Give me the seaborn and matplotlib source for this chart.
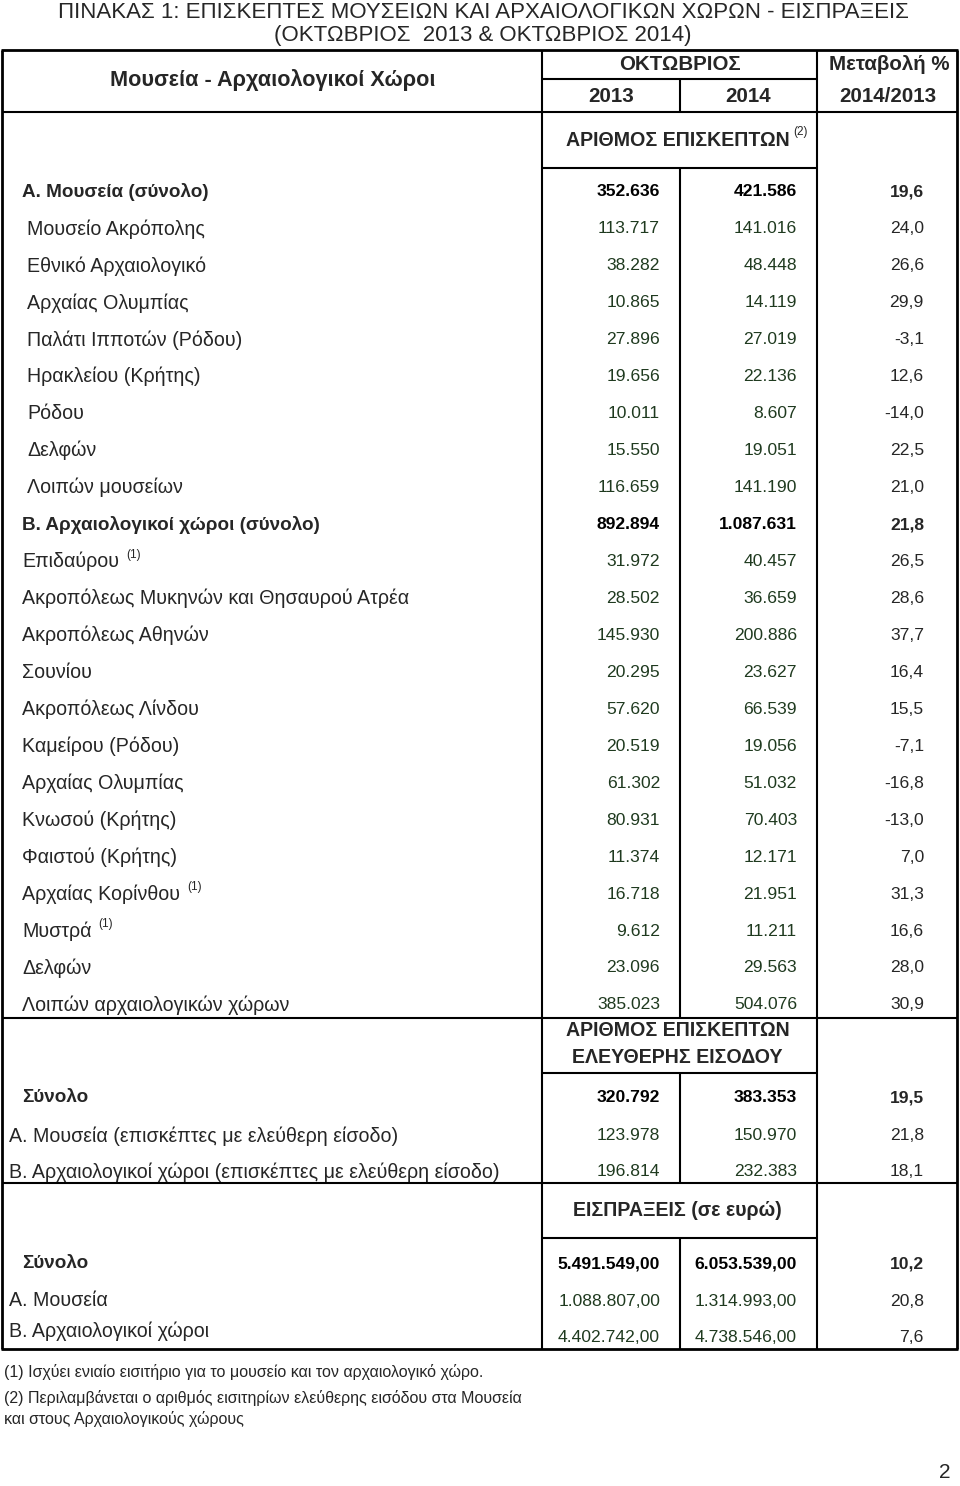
import numpy as np
import pandas as pd
import matplotlib
matplotlib.use("Agg")
import matplotlib.pyplot as plt
import seaborn as sns

title_lines = ["ΠΙΝΑΚΑΣ 1: ΕΠΙΣΚΕΠΤΕΣ ΜΟΥΣΕΙΩΝ ΚΑΙ ΑΡΧΑΙΟΛΟΓΙΚΩΝ ΧΩΡΩΝ - ΕΙΣΠΡΑΞΕΙΣ",
               "(ΟΚΤΩΒΡΙΟΣ  2013 & ΟΚΤΩΒΡΙΟΣ 2014)"]

visit_labels = ["Α. Μουσεία (σύνολο)", "Μουσείο Ακρόπολης", "Εθνικό Αρχαιολογικό",
                "Αρχαίας Ολυμπίας", "Παλάτι Ιπποτών (Ρόδου)", "Ηρακλείου (Κρήτης)",
                "Ρόδου", "Δελφών", "Λοιπών μουσείων",
                "Β. Αρχαιολογικοί χώροι (σύνολο)", "Επιδαύρου",
                "Ακροπόλεως Μυκηνών και Θησαυρού Ατρέα", "Ακροπόλεως Αθηνών", "Σουνίου",
                "Ακροπόλεως Λίνδου", "Καμείρου (Ρόδου)", "Αρχαίας Ολυμπίας",
                "Κνωσού (Κρήτης)", "Φαιστού (Κρήτης)", "Αρχαίας Κορίνθου", "Μυστρά",
                "Δελφών", "Λοιπών αρχαιολογικών χώρων"]
visit_2013 = [352636, 113717, 38282, 10865, 27896, 19656, 10011, 15550, 116659,
              892894, 31972, 28502, 145930, 20295, 57620, 20519, 61302, 80931,
              11374, 16718, 9612, 23096, 385023]
visit_2014 = [421586, 141016, 48448, 14119, 27019, 22136, 8607, 19051, 141190,
              1087631, 40457, 36659, 200886, 23627, 66539, 19056, 51032, 70403,
              12171, 21951, 11211, 29563, 504076]
visit_change = [19.6, 24.0, 26.6, 29.9, -3.1, 12.6, -14.0, 22.5, 21.0,
                21.8, 26.5, 28.6, 37.7, 16.4, 15.5, -7.1, -16.8, -13.0,
                7.0, 31.3, 16.6, 28.0, 30.9]
visit_notes = {"Επιδαύρου": "(1)", "Αρχαίας Κορίνθου": "(1)", "Μυστρά": "(1)"}
visit_totals = [0, 9]
museum_items = [1, 2, 3, 4, 5, 6, 7, 8]

free_labels = ["Σύνολο", "Α. Μουσεία (επισκέπτες με ελεύθερη είσοδο)",
               "Β. Αρχαιολογικοί χώροι (επισκέπτες με ελεύθερη είσοδο)"]
free_2013 = [320792, 123978, 196814]
free_2014 = [383353, 150970, 232383]
free_change = [19.5, 21.8, 18.1]

rev_labels = ["Σύνολο", "Α. Μουσεία", "Β. Αρχαιολογικοί χώροι"]
rev_2013 = [5491549.00, 1088807.00, 4402742.00]
rev_2014 = [6053539.00, 1314993.00, 4738546.00]
rev_change = [10.2, 20.8, 7.6]

footnotes = ["(1) Ισχύει ενιαίο εισιτήριο για το μουσείο και τον αρχαιολογικό χώρο.",
             "(2) Περιλαμβάνεται ο αριθμός εισιτηρίων ελεύθερης εισόδου στα Μουσεία\nκαι στους Αρχαιολογικούς χώρους"]


def fmt_int(v):
    return f"{v:,}".replace(",", ".")


def fmt_money(v):
    s = f"{v:,.2f}"
    return s.replace(",", "X").replace(".", ",").replace("X", ".")


def fmt_pct(v):
    return f"{v:.1f}".replace(".", ",")


sns.set_theme(style="white")
plt.rcParams["font.family"] = ["Liberation Sans", "DejaVu Sans"]

W, H = 960, 1486
fig = plt.figure(figsize=(W / 100, H / 100), dpi=100)
ax = fig.add_axes([0, 0, 1, 1])
ax.set_xlim(0, W)
ax.set_ylim(H, 0)
ax.axis("off")

FS_NUM = 12.6      # numbers
FS_LAB = 14.1      # row labels
FS_LAB_B = 13.6    # bold row labels
GREEN = "#1f3a1f"
C1, C2, C3 = 542, 680, 817        # column borders
L, R = 2, 957
R13, R14, RCH = 660, 797, 924     # right edges of number columns

# title
ax.text(483, 12, title_lines[0], ha="center", va="center", fontsize=16)
ax.text(483, 36, title_lines[1], ha="center", va="center", fontsize=16)

# header
hdr = dict(fontsize=14.8, fontweight="bold", va="center", ha="center")
ax.text((L + C1) / 2 + 1, 80, "Μουσεία - Αρχαιολογικοί Χώροι", fontsize=15.6,
        fontweight="bold", va="center", ha="center")
ax.text((C1 + C3) / 2, 64, "ΟΚΤΩΒΡΙΟΣ", **hdr)
ax.text((C3 + R) / 2 + 2, 64, "Μεταβολή %", **hdr)
ax.text((C1 + C2) / 2, 96, "2013", **hdr)
ax.text((C2 + C3) / 2, 96, "2014", **hdr)
ax.text((C3 + R) / 2 + 1, 96, "2014/2013", **hdr)


def section_header(y, text, note=None):
    t = ax.text((C1 + C3) / 2 - 2, y, text, ha="center", va="center",
                fontsize=14.1, fontweight="bold", linespacing=1.5)
    if note:
        ax.annotate(note, xy=(1, 1), xycoords=t, xytext=(3, -1),
                    textcoords="offset points", fontsize=8.5, va="center")


def draw_rows(ys, labels, a, b, c, fmt, bold_rows, indent_rows=(), note_map=None,
              label_x=22, label_dy=None):
    for i, y in enumerate(ys):
        bold = i in bold_rows
        w = "bold" if bold else "normal"
        ly = y if label_dy is None else y + label_dy[i]
        lx = 27 if i in indent_rows else label_x
        t = ax.text(lx, ly, labels[i], ha="left", va="center",
                    fontsize=FS_LAB_B if bold else FS_LAB, fontweight=w)
        if note_map and labels[i] in note_map:
            ax.annotate(note_map[labels[i]], xy=(1, 1), xycoords=t, xytext=(5, -2),
                        textcoords="offset points", fontsize=8.5, va="center")
        col = "black" if bold else GREEN
        ax.text(R13, y, fmt(a[i]), ha="right", va="center", fontsize=FS_NUM, fontweight=w, color=col)
        ax.text(R14, y, fmt(b[i]), ha="right", va="center", fontsize=FS_NUM, fontweight=w, color=col)
        ax.text(RCH, y, fmt_pct(c[i]), ha="right", va="center", fontsize=FS_NUM, fontweight=w)


# section 1: visitors
section_header(140, "ΑΡΙΘΜΟΣ ΕΠΙΣΚΕΠΤΩΝ", "(2)")
ys1 = 192 + np.arange(len(visit_labels)) * 36.95
draw_rows(ys1, visit_labels, visit_2013, visit_2014, visit_change, fmt_int,
          visit_totals, museum_items, visit_notes)

# section 2: free entry
section_header(1044, "ΑΡΙΘΜΟΣ ΕΠΙΣΚΕΠΤΩΝ\nΕΛΕΥΘΕΡΗΣ ΕΙΣΟΔΟΥ")
ys2 = np.array([1098, 1136, 1172])
draw_rows(ys2, free_labels, free_2013, free_2014, free_change, fmt_int, [0])
# the two sub rows start closer to the border
for t in ax.texts[-9:]:
    if t.get_text() in free_labels[1:]:
        t.set_x(9)

# section 3: revenue
section_header(1211, "ΕΙΣΠΡΑΞΕΙΣ (σε ευρώ)")
ys3 = np.array([1264, 1301, 1338])
draw_rows(ys3, rev_labels, rev_2013, rev_2014, rev_change, fmt_money, [0],
          label_dy=[0, 0, -7])
for t in ax.texts[-9:]:
    if t.get_text() in rev_labels[1:]:
        t.set_x(9)

# grid lines
lw_in, lw_out = 1.5, 2.0
ax.hlines([50, 1349], L - 1, R + 1, color="black", lw=lw_out)
ax.vlines([L, R], 50, 1349, color="black", lw=lw_out)
ax.vlines([C1, C3], 50, 1349, color="black", lw=lw_in)
ax.hlines([112, 1018, 1183], L, R, color="black", lw=lw_in)
ax.hlines([79, 168, 1073, 1238], C1, C3, color="black", lw=lw_in)
for y0, y1 in [(79, 112), (168, 1018), (1073, 1183), (1238, 1349)]:
    ax.vlines(C2, y0, y1, color="black", lw=lw_in)

# footnotes and page number
ax.text(4, 1372, footnotes[0], ha="left", va="center", fontsize=11.5)
ax.text(4, 1390, footnotes[1], ha="left", va="top", fontsize=11.5, linespacing=1.35)
ax.text(945, 1472, "2", ha="center", va="center", fontsize=15)

fig.savefig("out.png", dpi=100)
